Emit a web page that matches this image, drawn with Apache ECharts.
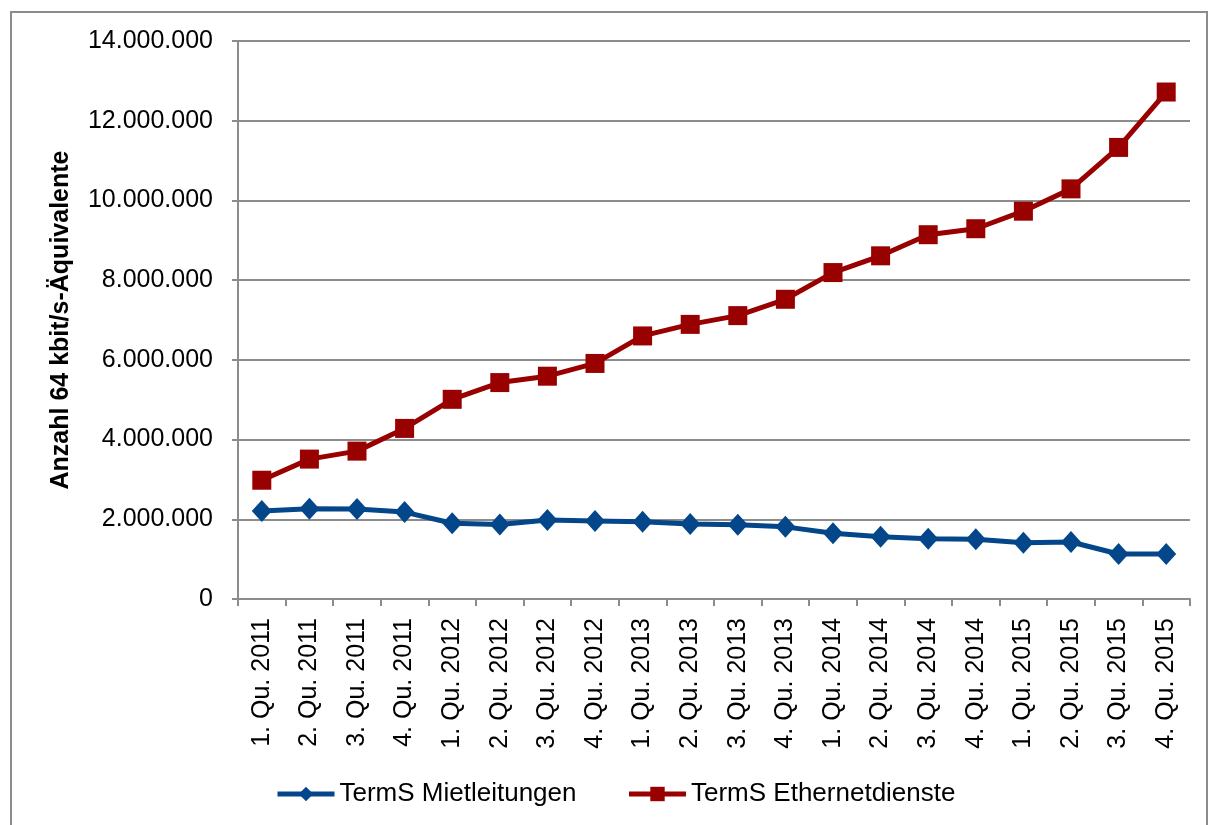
<!DOCTYPE html>
<html>
<head>
<meta charset="utf-8">
<script src="https://cdn.jsdelivr.net/npm/echarts@6/dist/echarts.min.js"></script>
<style>
  html, body { margin: 0; padding: 0; background: #ffffff; }
  #chart { width: 1216px; height: 825px; }
</style>
</head>
<body>
<div id="chart"></div>
<script>
// Quarters shown on the category axis
const quarters = [
  '1. Qu. 2011', '2. Qu. 2011', '3. Qu. 2011', '4. Qu. 2011',
  '1. Qu. 2012', '2. Qu. 2012', '3. Qu. 2012', '4. Qu. 2012',
  '1. Qu. 2013', '2. Qu. 2013', '3. Qu. 2013', '4. Qu. 2013',
  '1. Qu. 2014', '2. Qu. 2014', '3. Qu. 2014', '4. Qu. 2014',
  '1. Qu. 2015', '2. Qu. 2015', '3. Qu. 2015', '4. Qu. 2015'
];

// Leased lines (terminating segments), 64 kbit/s equivalents
const mietleitungen = [
  2210000, 2265000, 2260000, 2180000, 1900000, 1870000, 1980000, 1960000,
  1940000, 1880000, 1860000, 1810000, 1650000, 1560000, 1510000, 1500000,
  1410000, 1430000, 1130000, 1130000
];

// Ethernet services (terminating segments), 64 kbit/s equivalents
const ethernetdienste = [
  2980000, 3510000, 3710000, 4280000, 5010000, 5430000, 5590000, 5910000,
  6600000, 6890000, 7110000, 7520000, 8190000, 8610000, 9140000, 9290000,
  9730000, 10290000, 11330000, 12720000
];

const seriesNames = ['TermS Mietleitungen', 'TermS Ethernetdienste'];
const yAxisTitle = 'Anzahl 64 kbit/s-Äquivalente';

const FONT = 'Liberation Sans, Arial, sans-serif';
const BLUE = '#03468a';
const RED = '#990000';
const GRID_GRAY = '#8c8c8c';

function formatThousands(v) {
  return String(Math.round(v)).replace(/\B(?=(\d{3})+(?!\d))/g, '.');
}

const chart = echarts.init(document.getElementById('chart'), null, { renderer: 'canvas' });

chart.setOption({
  animation: false,
  backgroundColor: '#ffffff',
  graphic: [
    {
      type: 'rect',
      shape: { x: 11, y: 12, width: 1196, height: 840 },
      style: { fill: 'none', stroke: GRID_GRAY, lineWidth: 2 },
      silent: true,
      z: -10
    },
    {
      type: 'text',
      x: 61,
      y: 320,
      rotation: Math.PI / 2,
      style: {
        text: yAxisTitle,
        font: 'bold 25px ' + FONT,
        fill: '#000000',
        align: 'center',
        verticalAlign: 'middle'
      }
    }
  ],
  grid: { left: 238, right: 26, top: 41, bottom: 226, containLabel: false },
  legend: {
    data: seriesNames,
    left: 275,
    top: 781,
    padding: 0,
    itemWidth: 57,
    itemHeight: 18,
    itemGap: 50,
    lineStyle: { width: 5 },
    textStyle: { fontFamily: FONT, fontSize: 26, color: '#000000' }
  },
  xAxis: {
    type: 'category',
    data: quarters,
    boundaryGap: true,
    axisLine: { lineStyle: { color: GRID_GRAY, width: 2 } },
    axisTick: { show: true, interval: 0, length: 7, lineStyle: { color: GRID_GRAY, width: 2 } },
    axisLabel: {
      interval: 0,
      rotate: 90,
      margin: 19,
      fontFamily: FONT,
      fontSize: 25,
      color: '#000000'
    },
    splitLine: { show: false }
  },
  yAxis: {
    type: 'value',
    min: 0,
    max: 14000000,
    interval: 2000000,
    axisLine: { show: true, lineStyle: { color: GRID_GRAY, width: 2 } },
    axisTick: { show: true, length: 6, lineStyle: { color: GRID_GRAY, width: 2 } },
    axisLabel: {
      margin: 25,
      fontFamily: FONT,
      fontSize: 25,
      color: '#000000',
      formatter: formatThousands
    },
    splitLine: { show: true, lineStyle: { color: GRID_GRAY, width: 2 } }
  },
  series: [
    {
      name: seriesNames[0],
      type: 'line',
      data: mietleitungen,
      symbol: 'diamond',
      symbolSize: [20, 22],
      lineStyle: { color: BLUE, width: 5 },
      itemStyle: { color: BLUE },
      z: 3
    },
    {
      name: seriesNames[1],
      type: 'line',
      data: ethernetdienste,
      symbol: 'rect',
      symbolSize: 19,
      lineStyle: { color: RED, width: 5 },
      itemStyle: { color: RED },
      z: 3
    }
  ]
});
</script>
</body>
</html>
